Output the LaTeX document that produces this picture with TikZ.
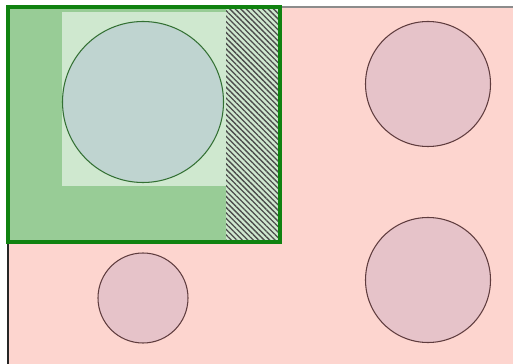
\documentclass[tikz,border=0pt]{standalone}
\usetikzlibrary{patterns.meta}
\definecolor{bgpink}{RGB}{253,213,207}
\definecolor{circpink}{RGB}{230,195,201}
\definecolor{circedge}{RGB}{95,60,62}
\definecolor{midgreen}{RGB}{152,204,150}
\definecolor{lightgreen}{RGB}{207,232,207}
\definecolor{bluegray}{RGB}{191,212,208}
\definecolor{framegreen}{RGB}{16,130,16}
\tikzset{
  pinkcirc/.style={circle, draw=circedge, line width=0.6pt, fill=circpink, inner sep=0pt},
  greencirc/.style={circle, draw=black!60!green!60!gray, line width=0.6pt, fill=bluegray, inner sep=0pt},
  hatch/.style={pattern={Lines[angle=-45,distance=2.2pt,line width=0.75pt]}, pattern color=black!70}
}
\begin{document}
\begin{tikzpicture}[x=0.02cm, y=-0.02cm]
\useasboundingbox (0,0) rectangle (513,364);
% pink area
\fill[bgpink] (8,7) rectangle (513,364);
\draw[black!45, line width=0.8pt] (280,7) -- (513,7);
\draw[black!85, line width=0.9pt] (8,7) -- (8,364);
% green frame
\fill[midgreen] (8,7) rectangle (280,242);
\fill[lightgreen] (62,12) rectangle (226,186);
\fill[lightgreen] (226,8) rectangle (278,241);
\fill[hatch] (226,8) rectangle (278,241);
\node[greencirc, minimum size=161*0.02cm] (big) at (143,102) {};
\draw[framegreen, line width=2.1pt] (8,7) rectangle (280,242);
% pink circles
\node[pinkcirc, minimum size=125*0.02cm] (topright) at (428,84) {};
\node[pinkcirc, minimum size=125*0.02cm] (botright) at (428,280) {};
\node[pinkcirc, minimum size=90*0.02cm] (botleft) at (143,298) {};
\end{tikzpicture}
\end{document}
